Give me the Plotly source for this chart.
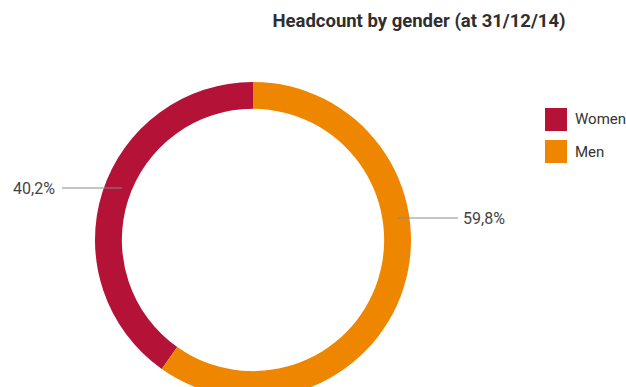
import plotly.graph_objects as go

# Headcount split by gender at 31/12/14 (percent)
genders = ["Women", "Men"]
shares = [40.2, 59.8]
colors = ["#B41237", "#EF8600"]

W, H = 626, 398
top_margin = 82
plot_h = H - top_margin
radius = plot_h / 2
cx = 253
FONT = "Roboto, sans-serif"

fig = go.Figure()
# Women runs anticlockwise from 12 o'clock, so start the clockwise sweep
# at the angle where that slice begins.
fig.add_trace(go.Pie(
    labels=genders,
    values=shares,
    hole=0.83,
    sort=False,
    direction="clockwise",
    rotation=-shares[0] / sum(shares) * 360,
    marker=dict(colors=colors, line=dict(width=0)),
    textinfo="none",
    hoverinfo="label+percent",
    showlegend=False,
    domain=dict(x=[(cx - radius) / W, (cx + radius) / W], y=[0, 1]),
))


def fmt(v):
    return f"{v:.1f}%".replace(".", ",")


def py(px):
    """Pixel row from top of the figure -> paper y."""
    return 1 - (px - top_margin) / plot_h


annotations = []
shapes = []

# leader-line labels: (slice index, line x0, line x1, pixel row, text x, side)
label_specs = [
    (0, 62, 122, 188, 57, "right"),
    (1, 398, 458, 218, 461, "left"),
]
for idx, x0, x1, row, tx, anchor in label_specs:
    shapes.append(dict(
        type="line", xref="paper", yref="paper",
        x0=x0 / W, x1=x1 / W, y0=py(row), y1=py(row),
        line=dict(color="#8a8a8a", width=1),
    ))
    annotations.append(dict(
        x=tx / W, y=py(row), xref="paper", yref="paper",
        text=fmt(shares[idx]), showarrow=False,
        xanchor=anchor, yanchor="middle",
        font=dict(family=FONT, size=16, color="#444444"),
    ))

# legend: colour squares with labels
for i, (name, col) in enumerate(zip(genders, colors)):
    top = 108 + i * 32
    shapes.append(dict(
        type="rect", xref="paper", yref="paper",
        x0=545 / W, x1=567 / W, y0=py(top + 23), y1=py(top),
        fillcolor=col, line=dict(width=0),
    ))
    annotations.append(dict(
        x=573 / W, y=py(top + 11.5), xref="paper", yref="paper",
        text=name, showarrow=False, xanchor="left", yanchor="middle",
        font=dict(family=FONT, size=15, color="#333333"),
    ))

fig.update_layout(
    width=W, height=H,
    margin=dict(l=0, r=0, t=top_margin, b=0),
    paper_bgcolor="white",
    plot_bgcolor="white",
    title=dict(
        text="<b>Headcount by gender (at 31/12/14)</b>",
        x=419 / W, xanchor="center", xref="paper",
        y=1 - 21 / H, yanchor="middle", yref="container",
        font=dict(family=FONT, size=18.5, color="#2e2e2e"),
    ),
    annotations=annotations,
    shapes=shapes,
)

fig.write_html("out.html")
